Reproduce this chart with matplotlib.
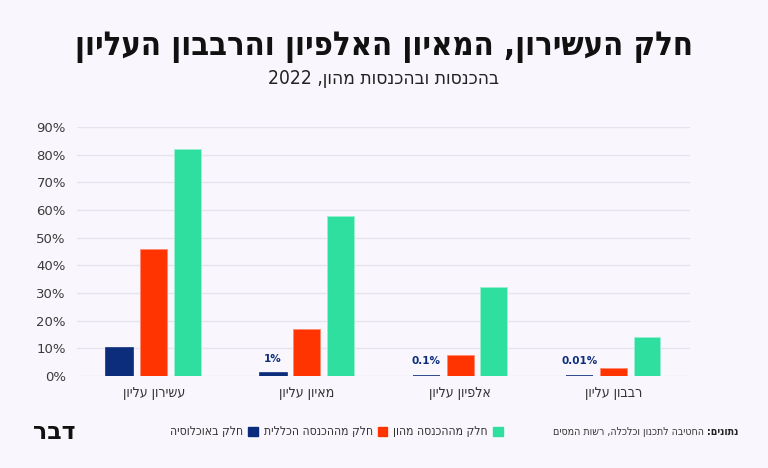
import re
import matplotlib
matplotlib.use("Agg")
import matplotlib.pyplot as plt
from matplotlib.patches import Patch
from matplotlib.font_manager import FontProperties
import numpy as np


def heb(s):
    # matplotlib has no bidi: flip to visual order, keep digit runs readable
    r = s[::-1]
    return re.sub(r"[0-9.%]+", lambda m: m.group(0)[::-1], r)


def hfont(size, weight="normal"):
    return FontProperties(family="DejaVu Sans", stretch="condensed",
                          size=size, weight=weight)


groups = ["עשירון עליון", "מאיון עליון", "אלפיון עליון", "רבבון עליון"]
population = [10, 1, 0.1, 0.01]
total_income = [46, 17, 7.5, 3]
capital_income = [82, 58, 32, 14]
pop_labels = ["", "1%", "0.1%", "0.01%"]
series_names = ["חלק באוכלוסיה", "חלק מההכנסה הכללית", "חלק מההכנסה מהון"]

bg = "#f9f7fd"
navy = "#0b2d7c"
red = "#ff3400"
green = "#2fdf9f"

fig = plt.figure(figsize=(7.68, 4.68), dpi=100, facecolor=bg)
ax = fig.add_axes([0.1003, 0.1966, 0.798, 0.532], facecolor=bg)

x = np.arange(len(groups))
w = 0.176
off = 0.22
ax.bar(x - off, population, w, color=navy, edgecolor=navy, linewidth=1.2, zorder=3)
ax.bar(x, total_income, w, color=red, edgecolor="#ff8a70", linewidth=0.6, zorder=3)
ax.bar(x + off, capital_income, w, color=green, edgecolor="#9af0d0", linewidth=0.6, zorder=3)

for xi, v, lab in zip(x, population, pop_labels):
    if lab:
        ax.annotate(lab, (xi - off, v), xytext=(0, 7), textcoords="offset points",
                    ha="center", va="bottom", fontsize=7.5, fontweight="bold",
                    color=navy, family="DejaVu Sans")

ax.set_xlim(-0.5, 3.5)
ax.set_ylim(0, 90)
ax.set_yticks(range(0, 91, 10))
ax.set_yticklabels([f"{v}%" for v in range(0, 91, 10)], fontsize=9.5,
                   color="#3a3a3a", family="DejaVu Sans")
ax.set_xticks(x)
ax.set_xticklabels([heb(g) for g in groups], color="#333333",
                   fontproperties=hfont(10.2))
ax.tick_params(axis="both", length=0)
ax.tick_params(axis="y", pad=8)
ax.tick_params(axis="x", pad=7)
ax.grid(axis="y", color="#e6e4ec", linewidth=1, zorder=0)
for s in ax.spines.values():
    s.set_visible(False)

fig.text(0.5, 0.9, heb("חלק העשירון, המאיון האלפיון והרבבון העליון"),
         ha="center", va="center", color="#111111",
         fontproperties=hfont(23.5, "bold"))
fig.text(0.5, 0.833, heb("בהכנסות ובהכנסות מהון, 2022"), ha="center",
         va="center", color="#222222", fontproperties=hfont(13.8))

handles = [Patch(facecolor=c, edgecolor=c) for c in (navy, red, green)]
leg = fig.legend(handles, [heb(n) for n in series_names], ncol=3,
                 markerfirst=False, loc="center", bbox_to_anchor=(0.438, 0.077),
                 frameon=False, handlelength=0.8, handleheight=0.8,
                 handletextpad=0.4, columnspacing=0.5, prop=hfont(8.7))
for t in leg.get_texts():
    t.set_color("#333333")

fig.text(0.07, 0.077, heb("דבר"), ha="center", va="center", fontsize=17,
         fontweight="bold", color="#111111", family=["DejaVu Sans"])

src_bold = fig.text(0.961, 0.077, heb("נתונים:"), ha="right", va="center",
                    color="#222222", fontproperties=hfont(7.6, "bold"))
fig.canvas.draw()
bb = src_bold.get_window_extent()
fig.text(bb.x0 / fig.bbox.width - 0.003, 0.077,
         heb("החטיבה לתכנון וכלכלה, רשות המסים"), ha="right", va="center",
         color="#333333", fontproperties=hfont(7.6))

fig.savefig("out.png", dpi=100, facecolor=bg)
